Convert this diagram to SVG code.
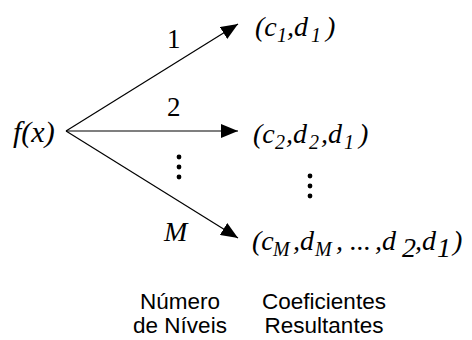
<svg xmlns="http://www.w3.org/2000/svg" width="472" height="340" viewBox="0 0 472 340">
<style>
.m{font-family:"Liberation Serif","Times New Roman",serif;font-style:italic;font-size:28px;fill:#000}
.n{font-family:"Liberation Serif","Times New Roman",serif;font-size:27px;fill:#000}
.s{font-size:20px}
.l{font-family:"Liberation Sans",Arial,sans-serif;font-size:22.5px;fill:#000;text-anchor:middle}
.c{stroke:#000;stroke-width:1.2;fill:none;marker-end:url(#ah)}
</style>
<defs>
<marker id="ah" markerUnits="userSpaceOnUse" markerWidth="18" markerHeight="14" refX="17" refY="7" orient="auto">
<path d="M0,0 L17,7 L0,14 z" fill="#000"/>
</marker>
</defs>
<g id="connectors">
<line class="c" x1="66" y1="131" x2="238" y2="24"/>
<line class="c" x1="66" y1="131" x2="238" y2="131"/>
<line class="c" x1="66" y1="131" x2="238" y2="238"/>
</g>
<g id="source"><text class="m" x="13" y="142" style="font-size:30px">f(x)</text></g>
<g id="label1"><text class="n" x="167" y="48">1</text></g>
<g id="label2"><text class="n" x="167" y="116">2</text></g>
<g id="labelM"><text class="m" x="164" y="241">M</text></g>
<g id="dotsLeft" fill="#000"><circle cx="179" cy="157" r="2.4"/><circle cx="179" cy="167" r="2.4"/><circle cx="179" cy="177" r="2.4"/></g>
<g id="dotsRight" fill="#000"><circle cx="310" cy="176" r="2.4"/><circle cx="310" cy="186" r="2.4"/><circle cx="310" cy="196" r="2.4"/></g>
<g id="out1"><text class="m" y="36"><tspan x="255">(c</tspan><tspan class="s" x="277" y="42">1</tspan><tspan x="287" y="36">,d</tspan><tspan class="s" x="311" y="42">1</tspan><tspan x="326" y="36">)</tspan></text></g>
<g id="out2"><text class="m" y="143"><tspan x="253">(c</tspan><tspan class="s" x="275" y="149">2</tspan><tspan x="286" y="143">,d</tspan><tspan class="s" x="309" y="149">2</tspan><tspan x="321" y="143">,d</tspan><tspan class="s" x="344" y="149">1</tspan><tspan x="359" y="143">)</tspan></text></g>
<g id="outM"><text class="m" y="250"><tspan x="252">(c</tspan><tspan class="s" x="273" y="256">M</tspan><tspan x="293" y="250">,d</tspan><tspan class="s" x="315" y="256">M</tspan><tspan x="336" y="250">,</tspan><tspan x="350">...</tspan><tspan x="375">,d</tspan><tspan x="402" y="257">2</tspan><tspan x="415" y="250">,d</tspan><tspan x="437" y="257">1</tspan><tspan x="453" y="250">)</tspan></text></g>
<g id="caption1"><text class="l" x="180" y="309">Número</text><text class="l" x="180" y="333">de Níveis</text></g>
<g id="caption2"><text class="l" x="324" y="309">Coeficientes</text><text class="l" x="324" y="333">Resultantes</text></g>
</svg>
